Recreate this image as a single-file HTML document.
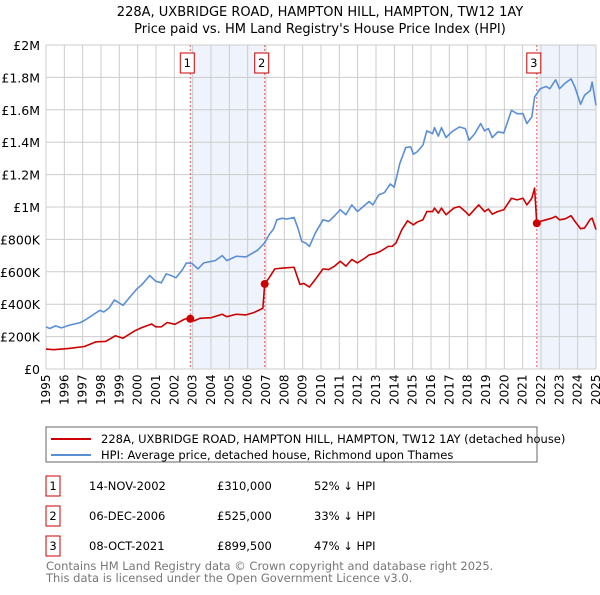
<!DOCTYPE html>
<html><head><meta charset="utf-8"><style>
body{margin:0;background:#fff;font-family:"Liberation Sans","DejaVu Sans",sans-serif;}
svg text{font-family:"DejaVu Sans","Liberation Sans",sans-serif;}
</style></head><body>
<svg id="c" width="600" height="590" xmlns="http://www.w3.org/2000/svg">
<text x="320" y="16" font-size="13" text-anchor="middle">228A, UXBRIDGE ROAD, HAMPTON HILL, HAMPTON, TW12 1AY</text>
<text x="320" y="33" font-size="13" text-anchor="middle">Price paid vs. HM Land Registry's House Price Index (HPI)</text>
<g id="plot"></g>
<g>
<rect x="46" y="427" width="491" height="35" fill="#fff" stroke="#666"/>
<line x1="51" y1="439" x2="91" y2="439" stroke="#cc0000" stroke-width="2"/>
<text x="101" y="443" font-size="11.5">228A, UXBRIDGE ROAD, HAMPTON HILL, HAMPTON, TW12 1AY (detached house)</text>
<line x1="51" y1="455" x2="91" y2="455" stroke="#5b8fd4" stroke-width="2"/>
<text x="101" y="459" font-size="11.5">HPI: Average price, detached house, Richmond upon Thames</text>
</g>
<g font-size="11.5">
<rect x="46" y="476" width="14" height="20" fill="#fff" stroke="#cc0000"/><text x="53" y="490" text-anchor="middle">1</text>
<text x="89" y="490">14-NOV-2002</text><text x="217" y="490">£310,000</text><text x="314" y="490">52% ↓ HPI</text>
<rect x="46" y="506" width="14" height="20" fill="#fff" stroke="#cc0000"/><text x="53" y="520" text-anchor="middle">2</text>
<text x="89" y="520">06-DEC-2006</text><text x="217" y="520">£525,000</text><text x="314" y="520">33% ↓ HPI</text>
<rect x="46" y="536" width="14" height="20" fill="#fff" stroke="#cc0000"/><text x="53" y="550" text-anchor="middle">3</text>
<text x="89" y="550">08-OCT-2021</text><text x="217" y="550">£899,500</text><text x="314" y="550">47% ↓ HPI</text>
</g>
<text x="46" y="570" font-size="11.5" fill="#777">Contains HM Land Registry data © Crown copyright and database right 2025.</text>
<text x="46" y="582" font-size="11.5" fill="#777">This data is licensed under the Open Government Licence v3.0.</text>
</svg>
<script>
const hpiYears=[1995.00,1995.21,1995.52,1995.84,1996.26,1996.89,1997.20,1997.94,1998.15,1998.46,1998.73,1999.20,1999.62,1999.93,2000.24,2000.66,2000.98,2001.29,2001.55,2001.82,2002.09,2002.45,2002.66,2002.97,2003.29,2003.60,2004.23,2004.61,2004.86,2005.38,2005.91,2006.54,2006.92,2007.17,2007.42,2007.59,2007.90,2008.11,2008.53,2008.74,2008.95,2009.16,2009.37,2009.69,2010.11,2010.42,2010.74,2011.05,2011.36,2011.68,2011.99,2012.31,2012.62,2012.83,2013.15,2013.46,2013.78,2013.99,2014.30,2014.62,2014.89,2015.04,2015.25,2015.56,2015.77,2016.09,2016.19,2016.40,2016.57,2016.82,2017.13,2017.55,2017.87,2018.08,2018.39,2018.71,2018.92,2019.13,2019.34,2019.65,2019.97,2020.39,2020.70,2021.02,2021.23,2021.50,2021.65,2021.96,2022.27,2022.48,2022.80,2023.01,2023.32,2023.64,2023.85,2024.16,2024.37,2024.69,2024.79,2025.00];
const hpiValues=[260,250,266,254,270,287,307,362,352,379,426,393,450,491,522,577,542,532,587,577,563,614,655,651,618,655,669,700,669,696,692,733,778,829,866,921,931,925,935,870,788,778,757,839,921,911,946,983,952,1013,972,1003,1034,1013,1075,1089,1142,1122,1269,1367,1371,1326,1341,1382,1470,1453,1490,1437,1490,1429,1464,1494,1484,1412,1453,1515,1470,1484,1429,1464,1457,1597,1576,1576,1515,1556,1679,1730,1744,1730,1785,1730,1765,1791,1740,1634,1689,1719,1771,1627];
const propYears=[1995.00,1995.42,1996.26,1997.10,1997.73,1998.25,1998.78,1999.20,1999.83,2000.24,2000.77,2000.98,2001.29,2001.61,2002.03,2002.55,2002.76,2002.87,2003.08,2003.39,2004.02,2004.61,2004.86,2005.38,2005.91,2006.33,2006.83,2006.93,2007.17,2007.48,2008.01,2008.53,2008.85,2009.06,2009.37,2009.69,2010.11,2010.42,2010.74,2011.05,2011.36,2011.68,2011.99,2012.41,2012.62,2012.94,2013.25,2013.67,2013.88,2014.09,2014.41,2014.72,2015.04,2015.25,2015.56,2015.77,2016.09,2016.19,2016.40,2016.57,2016.82,2017.24,2017.55,2017.87,2018.08,2018.60,2018.92,2019.13,2019.34,2019.65,2019.97,2020.39,2020.70,2021.02,2021.23,2021.50,2021.65,2021.77,2021.96,2022.27,2022.59,2022.80,2023.01,2023.32,2023.64,2023.85,2024.16,2024.37,2024.69,2024.79,2025.00];
const propValues=[123,119,127,139,168,170,205,190,235,256,278,260,260,287,276,307,313,310,297,313,317,338,323,338,334,348,375,525,563,618,624,628,522,528,506,553,618,614,635,665,635,676,655,686,704,712,727,757,757,778,860,915,890,907,921,972,972,993,962,993,952,993,1003,972,948,1013,972,987,956,972,983,1054,1044,1054,1013,1054,1116,899.5,911,921,931,942,921,927,946,911,866,870,925,931,860];
const saleYears=[2002.87,2006.93,2021.77];
const saleValues=[310,525,899.5];
const saleLabels=["1","2","3"];
const yTicks=[0,200,400,600,800,1000,1200,1400,1600,1800,2000];
const yTickLabels=["£0","£200K","£400K","£600K","£800K","£1M","£1.2M","£1.4M","£1.6M","£1.8M","£2M"];
const xTicks=[1995,1996,1997,1998,1999,2000,2001,2002,2003,2004,2005,2006,2007,2008,2009,2010,2011,2012,2013,2014,2015,2016,2017,2018,2019,2020,2021,2022,2023,2024,2025];

const X0=46,X1=596,Y0=369,Y1=45;
const x=y=>X0+(y-1995)/30*(X1-X0);
const yv=v=>Y0-v/2000*(Y0-Y1);
const NS="http://www.w3.org/2000/svg";
const g=document.getElementById('plot');
function mk(t,a){const e=document.createElementNS(NS,t);for(const k in a)e.setAttribute(k,a[k]);g.appendChild(e);return e;}
// shading
const shades=[[saleYears[0],saleYears[1]],[saleYears[2],2025]];
shades.forEach((s,i)=>{const r=mk('rect',{x:x(s[0]),y:Y1,width:x(s[1])-x(s[0]),height:Y0-Y1,fill:'#eef3fc'});

});
// grid
xTicks.forEach(t=>{const l=mk('line',{x1:x(t),x2:x(t),y1:Y1,y2:Y0,stroke:'#ccc','stroke-width':1});


const tx=mk('text',{x:0,y:0,'font-size':12,transform:`translate(${x(t)+4},${Y0+36}) rotate(-90)`});
tx.textContent=t;

});
yTicks.forEach((t,i)=>{const l=mk('line',{x1:X0,x2:X1,y1:yv(t),y2:yv(t),stroke:'#ccc','stroke-width':1});


const tx=mk('text',{x:40,y:yv(t)+5,'font-size':12.5,'text-anchor':'end'});
tx.textContent=yTickLabels[i];

});
// sale lines
saleYears.forEach((s,i)=>{const l=mk('line',{x1:x(s),x2:x(s),y1:Y1,y2:Y0,stroke:'#e06060','stroke-width':1,'stroke-dasharray':'2,2'});


const b=mk('rect',{x:x(s)-10,y:53,width:14,height:20,fill:'#fff',stroke:'#cc0000'});


const t=mk('text',{x:x(s)-3,y:67,'font-size':11.5,'text-anchor':'middle'});
t.textContent=saleLabels[i];

});
function line(ys,vs,col,name){const p=mk('polyline',{points:ys.map((yy,i)=>x(yy)+','+yv(vs[i])).join(' '),fill:'none',stroke:col,'stroke-width':1.6,'stroke-linejoin':'round'});

}
line(hpiYears,hpiValues,'#5b8fd4','hpi-line');
line(propYears,propValues,'#cc0000','property-line');
saleYears.forEach((s,i)=>{const c=mk('circle',{cx:x(s),cy:yv(saleValues[i]),r:4,fill:'#cc0000'});

});
</script>
</body></html>
